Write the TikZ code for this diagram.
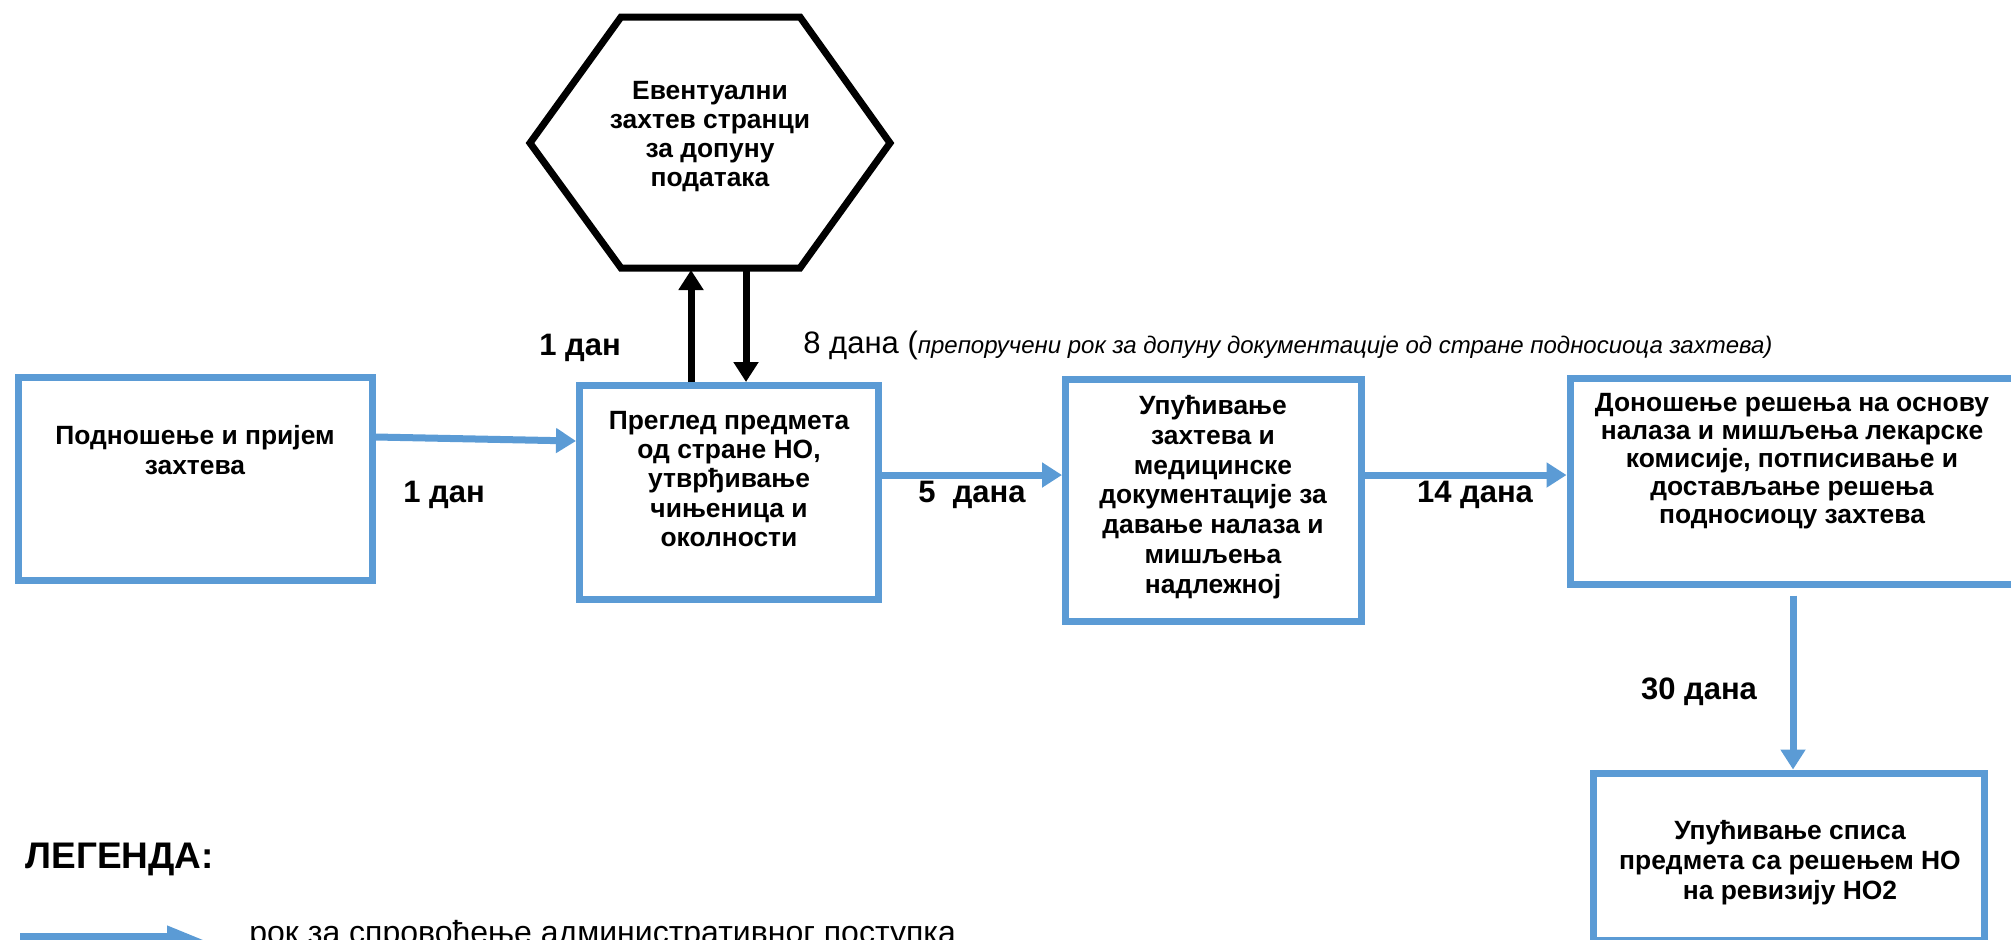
\documentclass[tikz,border=0pt]{standalone}
\usepackage{fontspec}
\setmainfont{Liberation Sans}
\usetikzlibrary{arrows.meta}
\definecolor{oblue}{RGB}{91,155,213}
\tikzset{
  box/.style={draw=oblue, line width=3.5pt, rectangle, inner sep=0pt},
  boxtext/.style={align=center, font=\fontsize{13.2pt}{14.7pt}\selectfont\bfseries, inner sep=0pt},
  lab/.style={font=\fontsize{15.5pt}{18pt}\selectfont\bfseries, inner sep=0pt},
  bluearrow/.style={draw=oblue, line width=3.5pt, -{Triangle[length=10pt,width=12pt]}},
  blackarrow/.style={draw=black, line width=3.5pt, -{Triangle[length=10pt,width=12pt]}},
}
\begin{document}
\begin{tikzpicture}[x=0.5pt,y=-0.5pt]
\useasboundingbox (0,0) rectangle (2011,939);
\clip (0,0) rectangle (2011,939);

% boxes
\node[box, minimum width=177pt, minimum height=101.5pt] (box1) at (195.5,479) {};
\node[boxtext] (t1) at (195,450) {Подношење и пријем\\захтева};

\node[box, minimum width=149.5pt, minimum height=107pt] (box2) at (729,492.5) {};
\node[boxtext] (t2) at (729,479) {Преглед предмета\\од стране НО,\\утврђивање\\чињеница и\\околности};

\node[box, minimum width=148pt, minimum height=121pt] (box3) at (1213.5,500.5) {};
\node[boxtext, font=\fontsize{13.2pt}{14.9pt}\selectfont\bfseries] (t3) at (1213,497) {Упућивање\\захтева и\\медицинске\\документације за\\давање налаза и\\мишљења\\надлежној};

\node[box, minimum width=222pt, minimum height=103pt] (box4) at (1792,481) {};
\node[boxtext, font=\fontsize{13.2pt}{14pt}\selectfont\bfseries] (t4) at (1792,461) {Доношење решења на основу\\налаза и мишљења лекарске\\комисије, потписивање и\\достављање решења\\подносиоцу захтева};

\node[box, minimum width=195.5pt, minimum height=83.5pt] (box5) at (1789,856.5) {};
\node[boxtext, font=\fontsize{13.2pt}{15pt}\selectfont\bfseries] (t5) at (1790,863) {Упућивање списа\\предмета са решењем НО\\на ревизију НО2};

% hexagon
\draw[line width=3.5pt, line join=miter] (530,143) -- (621,17) -- (800,17) -- (890,143) -- (800,268) -- (621,268) -- cycle;
\node[boxtext, font=\fontsize{13.2pt}{14.5pt}\selectfont\bfseries] (hex) at (710,137) {Евентуални\\захтев странци\\за допуну\\података};
\coordinate (hb) at (710,270);
\coordinate (u1) at (691,0);
\coordinate (u2) at (746,0);

% black arrows
\draw[blackarrow] (u1 |- box2.north) -- (u1 |- hb);
\draw[blackarrow] (u2 |- hb) -- (u2 |- box2.north);

% blue arrows
\coordinate (y1) at (0,437);
\coordinate (y1b) at (0,441);
\coordinate (y2) at (0,475);
\coordinate (x4) at (1793,0);
\draw[bluearrow] (box1.east |- y1) -- (box2.west |- y1b);
\draw[bluearrow] (box2.east |- y2) -- (box3.west |- y2);
\draw[bluearrow] (box3.east |- y2) -- (box4.west |- y2);
\draw[bluearrow] ([yshift=-4pt]x4 |- box4.south) -- (x4 |- box5.north);

% labels
\node[lab] (l1a) at (580,348) {1 дан};
\node[inner sep=0pt, anchor=base west] (l8) at (803,353) {{\fontsize{15.5pt}{18pt}\selectfont 8 дана (}{\fontsize{12pt}{14pt}\selectfont\itshape препоручени рок за допуну документације од стране подносиоца захтева)}};
\node[lab] (l1b) at (444,495) {1 дан};
\node[lab] (l5) at (972,495) {5\ \ дана};
\node[lab] (l14) at (1475,495) {14 дана};
\node[lab] (l30) at (1699,692) {30 дана};

% legend
\node[inner sep=0pt, anchor=base west, font=\fontsize{18.5pt}{22pt}\selectfont\bfseries] (leg) at (25,868) {ЛЕГЕНДА:};
\coordinate (lg1) at (20,940);
\coordinate (lg2) at (205,940);
\draw[draw=oblue, line width=7pt, -{Triangle[length=19pt,width=13pt]}] (lg1) -- (lg2);
\node[inner sep=0pt, anchor=base west, font=\fontsize{16pt}{19pt}\selectfont] (legt) at (249,943) {рок за спровођење административног поступка};
\end{tikzpicture}
\end{document}
